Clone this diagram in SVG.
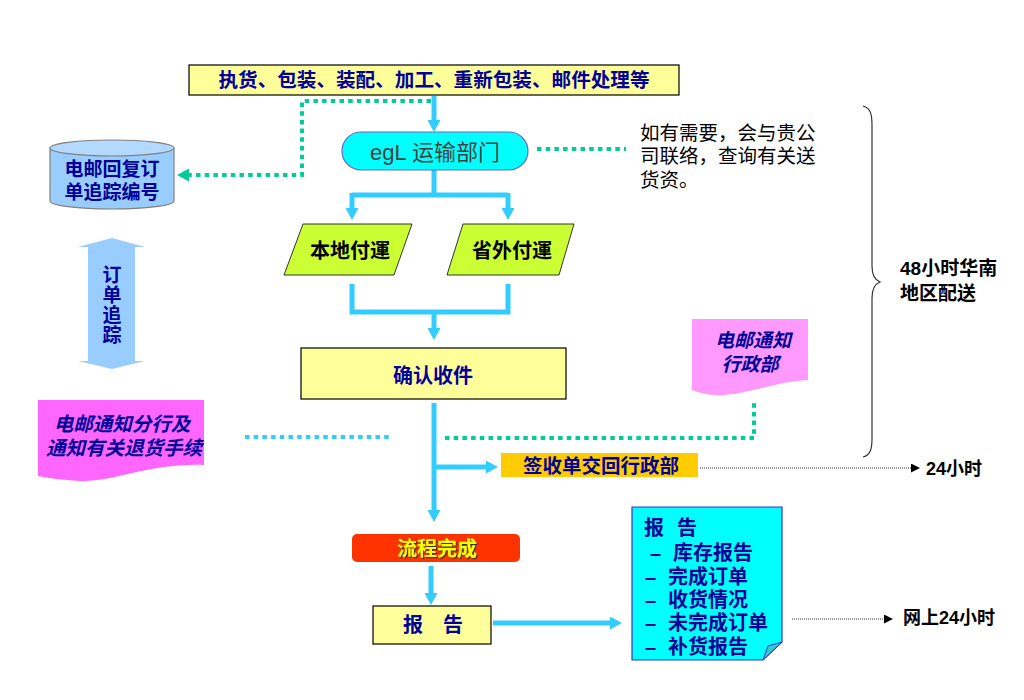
<svg xmlns="http://www.w3.org/2000/svg" width="1024" height="700" viewBox="0 0 1024 700">
<style>
text{font-family:"Liberation Sans","Noto Sans CJK SC",sans-serif;dominant-baseline:central}
.navy{fill:#000099;font-weight:bold}
.blk{fill:#000000;font-weight:bold}
.it{font-style:italic}
.flow{fill:none;stroke:#33CCFF;stroke-width:5}
.green{fill:none;stroke:#00CC99;stroke-width:4;stroke-dasharray:4.5 4.2}
.cyan{fill:none;stroke:#33CCFF;stroke-width:4;stroke-dasharray:4.5 4.2}
.thin{fill:none;stroke:#333333;stroke-width:1;stroke-dasharray:1 1}
</style>
<defs>
<marker id="ab" markerUnits="userSpaceOnUse" markerWidth="13" markerHeight="13" refX="0" refY="6.5" orient="auto"><path d="M0,0 L12,6.5 L0,13 z" fill="#33CCFF"/></marker>
<marker id="ag" markerUnits="userSpaceOnUse" markerWidth="13" markerHeight="13" refX="0" refY="6.5" orient="auto"><path d="M0,0 L12,6.5 L0,13 z" fill="#00CC99"/></marker>
<marker id="ak" markerUnits="userSpaceOnUse" markerWidth="9" markerHeight="9" refX="0" refY="4.5" orient="auto"><path d="M0,0 L9,4.5 L0,9 z" fill="#000000"/></marker>
<filter id="shadow" x="-10%" y="-20%" width="120%" height="150%"><feDropShadow dx="1.2" dy="1.2" stdDeviation="0" flood-color="#333333"/></filter>
</defs>
<rect width="1024" height="700" fill="#FFFFFF"/>

<g id="connectors">
<path class="flow" d="M434,96 V120" marker-end="url(#ab)"/>
<path class="green" d="M431,101 H302 V175 H189" marker-end="url(#ag)"/>
<path class="flow" d="M434,170 V195 M352,195 H508"/>
<path class="flow" d="M352,193 V208" marker-end="url(#ab)"/>
<path class="flow" d="M508,193 V208" marker-end="url(#ab)"/>
<path class="flow" d="M352,284 V312 H508 V284"/>
<path class="flow" d="M434,312 V328" marker-end="url(#ab)"/>
<path class="flow" d="M434,403 V510" marker-end="url(#ab)"/>
<path class="flow" d="M434,467 H486" marker-end="url(#ab)"/>
<path class="flow" d="M431,566 V593" marker-end="url(#ab)"/>
<path class="flow" d="M493,623 H610" marker-end="url(#ab)"/>
<path class="green" d="M537,149 H626"/>
<path class="cyan" d="M245,437 H392"/>
<path class="green" d="M445,438 H754 V403"/>
<path class="thin" d="M700,468 H911" marker-end="url(#ak)"/>
<path class="thin" d="M792,619 H884" marker-end="url(#ak)"/>
</g>

<g id="top-box">
<rect x="189" y="65" width="490" height="30" fill="#FFFF99" stroke="#000000" stroke-width="1.2"/>
<text class="navy" x="434" y="80" font-size="19.6" text-anchor="middle">执货、包装、装配、加工、重新包装、邮件处理等</text>
</g>

<g id="egl">
<rect x="342" y="132" width="186" height="38" rx="19" fill="#00FFFF" stroke="#6666CC" stroke-width="1.2"/>
<text x="435" y="152" font-size="22" fill="#404040" text-anchor="middle">egL 运输部门</text>
</g>

<g id="note-contact">
<text font-size="19.5" fill="#000000"><tspan x="640" y="133">如有需要，会与贵公</tspan><tspan x="640" y="156">司联络，查询有关送</tspan><tspan x="640" y="180">货资。</tspan></text>
</g>

<g id="cylinder">
<path d="M50,148 V201 A62,8 0 0 0 174,201 V148" fill="#99CCFF" stroke="#808080" stroke-width="1.2"/>
<ellipse cx="112" cy="148" rx="62" ry="8" fill="#B3D9FF" stroke="#808080" stroke-width="1.2"/>
<text class="navy" font-size="19" text-anchor="middle"><tspan x="112" y="169">电邮回复订</tspan><tspan x="112" y="192">单追踪编号</tspan></text>
</g>

<g id="tracking-arrow">
<polygon points="112,238 145,247 135,247 135,361 145,361 112,369 78,361 88,361 88,247 78,247" fill="#99CCFF"/>
<text class="navy" x="112" y="265" font-size="19" writing-mode="vertical-rl" letter-spacing="1" style="font-family:'Noto Sans CJK SC',sans-serif">订单追踪</text>
</g>

<g id="local">
<polygon points="303,224 412,224 394,275 284,275" fill="#CCFF33" stroke="#333333" stroke-width="1"/>
<text class="blk" x="350" y="251" font-size="20" text-anchor="middle">本地付運</text>
</g>

<g id="outside">
<polygon points="463,224 574,224 559,275 447,275" fill="#CCFF33" stroke="#333333" stroke-width="1"/>
<text class="blk" x="512" y="251" font-size="20" text-anchor="middle">省外付運</text>
</g>

<g id="confirm">
<rect x="301" y="348" width="265" height="51" fill="#FFFF99" stroke="#000000" stroke-width="1.2"/>
<text class="navy" x="433" y="376" font-size="20" text-anchor="middle">确认收件</text>
</g>

<g id="notify-admin">
<path d="M692,319 H808 V380 C775,382 755,392 725,395 C710,396 700,393 692,390 Z" fill="#FF99FF"/>
<text class="navy it" font-size="19" text-anchor="middle"><tspan x="753" y="340">电邮通知</tspan><tspan x="750" y="364">行政部</tspan></text>
</g>

<g id="notify-branch">
<path d="M38,400 H204 V465 C150,463 115,482 80,481 C62,480 48,478 38,476 Z" fill="#FF66FF"/>
<text class="navy it" font-size="19.5" text-anchor="middle"><tspan x="122" y="424">电邮通知分行及</tspan><tspan x="124" y="448">通知有关退货手续</tspan></text>
</g>

<g id="receipt">
<rect x="501" y="453" width="197" height="24" fill="#FFCC00"/>
<text class="navy" x="601" y="466" font-size="19.5" text-anchor="middle">签收单交回行政部</text>
</g>

<g id="brace">
<path d="M863,106 C871,108 872,115 872,126 V266 C872,276 875,280 880,282 C875,284 872,288 872,298 V438 C872,448 871,455 863,457" fill="none" stroke="#333333" stroke-width="1.2"/>
<text class="blk" font-size="19"><tspan x="900" y="268">48小时华南</tspan><tspan x="900" y="293">地区配送</tspan></text>
</g>

<g id="label-24h">
<text class="blk" x="926" y="469" font-size="18">24小时</text>
</g>

<g id="done">
<rect x="352" y="534" width="168" height="28" rx="5" fill="#FF3300"/>
<text x="437" y="549" font-size="20" text-anchor="middle" fill="#FFFF00" font-weight="bold" filter="url(#shadow)">流程完成</text>
</g>

<g id="report">
<rect x="373" y="606" width="118" height="38" fill="#FFFF99" stroke="#000000" stroke-width="1.2"/>
<text class="navy" font-size="20" text-anchor="middle"><tspan x="413" y="625">报</tspan><tspan x="453" y="625">告</tspan></text>
</g>

<g id="report-doc">
<path d="M632,507 H782 V642 L763,660 H632 Z" fill="#00FFFF" stroke="#3333CC" stroke-width="1.2"/>
<path d="M763,660 L768,646 L782,642 Z" fill="#33CCCC" stroke="#3333CC" stroke-width="1"/>
<text class="navy" font-size="20"><tspan x="644" y="528">报</tspan><tspan x="677" y="528">告</tspan><tspan x="650" y="553">–</tspan><tspan x="673" y="553">库存报告</tspan><tspan x="645" y="577">–</tspan><tspan x="668" y="577">完成订单</tspan><tspan x="645" y="600">–</tspan><tspan x="668" y="600">收货情况</tspan><tspan x="645" y="623">–</tspan><tspan x="668" y="623">未完成订单</tspan><tspan x="645" y="647">–</tspan><tspan x="668" y="647">补货报告</tspan></text>
</g>

<g id="label-online">
<text class="blk" x="903" y="618" font-size="18">网上24小时</text>
</g>
</svg>
